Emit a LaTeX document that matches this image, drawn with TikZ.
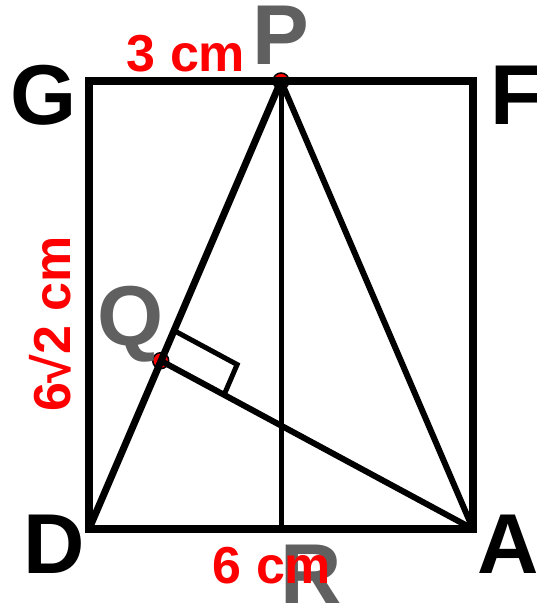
\documentclass[tikz,border=0pt]{standalone}
\usepackage{fontspec}
\setmainfont{Liberation Sans}
\usetikzlibrary{calc}
\definecolor{lblgray}{HTML}{606060}
\tikzset{
  vlabel/.style={font=\fontsize{85}{85}\selectfont\bfseries, inner sep=0pt, anchor=base},
  vlabelgray/.style={vlabel, text=lblgray},
  dimlabel/.style={font=\fontsize{52}{52}\selectfont\bfseries, text=red, inner sep=0pt, anchor=base},
  pointmark/.style={circle, fill=red, draw=black, line width=1.5pt, minimum size=16pt, inner sep=0pt},
}
\begin{document}
\begin{tikzpicture}[x=1pt,y=-1pt]
\useasboundingbox (0,0) rectangle (537,604);
% corner coordinates
\coordinate (D) at (89,529);
\coordinate (A) at (473,529);
\coordinate (F) at (473,81);
\coordinate (G) at (89,81);
\coordinate (P) at (281,81);
\coordinate (R) at (281,529);
\coordinate (Q) at (160.7,360.7);
% point markers
\node[pointmark] (Pm) at (P) {};
\node[pointmark] (Qm) at (Q) {};
% rectangle
\draw[line width=8pt, line join=miter] (D) -- (A) -- (F) -- (G) -- cycle;
% inner lines
\draw[line width=5pt] (P) -- (R);
\draw[line width=7pt] (D) -- (P);
\draw[line width=6pt] (P) -- (A);
\draw[line width=6pt] (Q) -- (A);
% right-angle mark
\coordinate (B1) at ($(Q)!33pt!(P)$);
\coordinate (B3) at ($(Q)!72pt!(A)$);
\coordinate (B2) at ($(B1)+(B3)-(Q)$);
\draw[line width=5pt, line join=miter] (B1) -- (B2) -- (B3);
% vertex labels
\node[vlabel] (lG) at (44,125) {G};
\node[vlabel] (lF) at (516,125) {F};
\node[vlabel] (lD) at (54,573) {D};
\node[vlabel] (lA) at (508,573) {A};
\node[vlabelgray] (lP) at (281,65) {P};
\node[vlabelgray] (lQ) at (131,345) {Q};
% dimension labels
\node[dimlabel] (d3) at (186,72) {3 cm};
\node[vlabelgray] (lR) at (311,603) {R};
\node[dimlabel] (d6) at (272,583) {6 cm};
\node[dimlabel, anchor=center, rotate=90] (d62) at (50,324) {6√2 cm};
\end{tikzpicture}
\end{document}
